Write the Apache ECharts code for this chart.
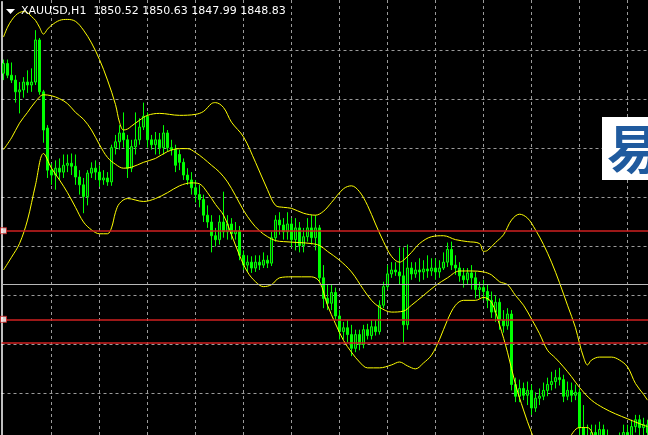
<!DOCTYPE html>
<html><head><meta charset="utf-8">
<script src="https://cdn.jsdelivr.net/npm/echarts/dist/echarts.min.js"></script>
<style>html,body{margin:0;padding:0;background:#000;}#c{width:648px;height:435px;}</style>
</head><body><div id="c"></div>
<script>
const symbolName = 'XAUUSD,H1';
const quote = ['1850.52', '1850.63', '1847.99', '1848.83'];

// [open, close, low, high]
const candles = [
[1882.7,1883.7,1882.0,1884.1],[1883.7,1882.5,1882.2,1884.1],[1882.5,1882.0,1881.7,1883.8],[1882.0,1880.8,1879.7,1882.5],
[1880.8,1881.0,1878.6,1881.8],[1881.0,1881.8,1880.2,1882.3],[1881.8,1881.5,1880.7,1883.0],[1881.5,1881.8,1880.8,1883.2],
[1881.8,1886.1,1881.5,1887.1],[1886.1,1880.8,1880.5,1886.3],[1880.8,1876.9,1875.6,1881.0],[1877.1,1872.8,1872.0,1877.4],
[1872.8,1872.3,1871.3,1873.5],[1872.3,1873.0,1870.8,1873.8],[1873.0,1872.6,1871.8,1874.0],[1872.6,1873.3,1872.0,1874.4],
[1873.3,1873.5,1872.6,1874.4],[1873.5,1873.2,1872.3,1874.5],[1873.2,1872.1,1871.3,1874.4],[1872.1,1871.3,1870.3,1872.8],
[1871.3,1870.1,1868.4,1872.0],[1870.1,1872.5,1869.2,1872.8],[1872.5,1873.0,1872.0,1873.6],[1873.0,1872.6,1871.8,1873.8],
[1872.6,1871.8,1871.1,1873.3],[1871.8,1872.0,1871.3,1872.8],[1872.0,1871.6,1871.2,1872.6],[1871.6,1875.1,1871.2,1875.4],
[1875.1,1875.7,1874.4,1876.4],[1875.7,1876.6,1874.9,1877.4],[1876.6,1875.9,1875.1,1878.7],[1875.9,1873.0,1872.0,1876.4],
[1873.0,1875.2,1872.6,1875.9],[1875.2,1875.9,1874.4,1878.7],[1875.9,1877.2,1875.4,1878.1],[1877.2,1878.3,1876.9,1879.7],
[1878.3,1875.9,1875.1,1878.7],[1875.9,1875.4,1874.9,1876.4],[1875.4,1875.9,1874.4,1876.7],[1875.9,1875.1,1874.4,1876.6],
[1875.1,1876.6,1874.4,1877.4],[1876.6,1875.1,1874.7,1876.9],[1875.1,1874.9,1874.3,1875.9],[1874.9,1873.3,1872.6,1875.4],
[1874.4,1873.6,1872.8,1874.9],[1873.6,1872.3,1871.8,1874.0],[1872.3,1871.8,1871.3,1873.0],[1871.8,1871.0,1870.3,1872.6],
[1871.0,1870.3,1869.5,1871.8],[1870.3,1869.8,1869.0,1871.3],[1869.8,1868.2,1867.5,1870.3],[1868.2,1867.5,1866.9,1869.2],
[1867.5,1866.1,1864.4,1868.2],[1866.1,1865.7,1865.0,1866.9],[1865.7,1867.5,1865.2,1868.2],[1867.5,1866.5,1865.9,1870.6],
[1866.5,1867.3,1865.7,1868.2],[1867.3,1866.3,1865.7,1867.9],[1866.3,1866.6,1865.7,1867.5],[1866.6,1864.1,1863.6,1867.1],
[1864.1,1863.1,1862.6,1864.6],[1863.1,1863.4,1862.4,1864.1],[1863.4,1862.8,1862.3,1864.0],[1862.8,1863.4,1862.4,1864.1],
[1863.4,1863.1,1862.6,1864.1],[1863.1,1863.6,1862.8,1864.4],[1863.6,1863.3,1862.8,1864.1],[1863.3,1865.9,1863.0,1866.5],
[1865.9,1867.7,1865.5,1868.2],[1867.7,1867.2,1866.2,1868.5],[1867.2,1866.5,1865.7,1867.9],[1866.5,1867.3,1865.7,1868.5],
[1867.3,1865.7,1864.9,1867.9],[1865.7,1866.9,1864.6,1867.9],[1866.9,1865.1,1864.4,1867.5],[1865.1,1866.0,1864.4,1866.9],
[1866.0,1866.9,1865.5,1867.9],[1866.9,1865.9,1865.2,1868.2],[1865.9,1866.9,1864.6,1868.2],[1866.9,1861.8,1861.4,1867.2],
[1861.8,1859.7,1858.7,1863.1],[1859.7,1859.2,1858.5,1861.1],[1859.2,1860.3,1858.5,1861.1],[1860.3,1857.9,1857.5,1860.8],
[1857.9,1856.3,1855.5,1858.5],[1856.3,1856.7,1855.5,1857.3],[1856.7,1856.0,1855.2,1857.5],[1856.0,1854.6,1853.8,1857.0],
[1854.6,1856.0,1854.2,1856.5],[1856.0,1855.0,1854.4,1856.5],[1855.0,1856.5,1854.6,1857.0],[1856.5,1855.9,1855.5,1857.1],
[1855.9,1856.8,1855.5,1857.5],[1856.8,1856.3,1855.9,1857.5],[1856.3,1859.0,1856.0,1859.5],[1859.0,1860.9,1858.7,1861.4],
[1860.9,1862.2,1860.6,1863.1],[1862.2,1862.6,1861.8,1863.4],[1862.6,1862.4,1862.0,1863.4],[1862.4,1862.0,1861.1,1864.9],
[1862.0,1857.0,1855.1,1864.9],[1857.0,1862.8,1856.5,1865.2],[1862.8,1862.2,1861.6,1863.4],[1862.2,1862.6,1861.8,1863.4],
[1862.6,1862.4,1861.4,1863.8],[1862.4,1862.7,1861.6,1863.6],[1862.7,1862.5,1861.8,1864.1],[1862.5,1862.8,1862.0,1863.8],
[1862.8,1862.4,1861.6,1863.8],[1862.4,1862.8,1861.8,1863.6],[1862.8,1863.4,1862.6,1864.4],[1863.4,1864.7,1862.9,1865.4],
[1864.7,1863.1,1862.6,1865.5],[1863.1,1862.8,1862.1,1864.1],[1862.8,1862.0,1861.4,1863.4],[1862.0,1861.6,1860.8,1862.8],
[1861.6,1862.3,1861.1,1862.8],[1862.3,1861.8,1860.6,1863.1],[1861.8,1860.6,1859.7,1862.4],[1860.6,1860.8,1859.7,1861.4],
[1860.8,1860.4,1859.5,1861.6],[1860.4,1859.5,1858.7,1861.1],[1859.5,1858.3,1857.7,1860.4],[1858.3,1859.3,1857.3,1860.0],
[1859.3,1857.5,1856.5,1859.7],[1857.5,1856.9,1856.2,1858.5],[1856.9,1858.1,1856.5,1858.7],[1858.1,1850.9,1850.3,1858.5],
[1850.9,1849.7,1849.1,1851.6],[1849.7,1850.5,1849.1,1851.4],[1850.5,1849.8,1849.3,1851.1],[1849.8,1850.3,1848.8,1851.2],
[1850.3,1848.5,1847.8,1850.9],[1848.5,1849.5,1848.1,1850.1],[1849.5,1849.7,1848.8,1850.5],[1849.7,1850.3,1849.3,1851.1],
[1850.3,1850.9,1849.7,1851.6],[1850.9,1851.2,1850.3,1852.2],[1851.2,1851.6,1850.5,1852.4],[1851.6,1851.4,1850.8,1852.6],
[1851.4,1849.7,1849.1,1851.9],[1849.7,1850.3,1849.3,1851.2],[1850.3,1849.8,1849.1,1851.1],[1849.8,1850.1,1849.3,1850.9],
[1850.1,1846.5,1845.7,1850.5],[1846.5,1845.2,1844.2,1848.8],[1845.2,1844.7,1843.7,1846.8],[1844.7,1846.0,1844.2,1846.8],
[1846.0,1845.4,1844.4,1846.8],[1845.4,1846.3,1844.7,1847.1],[1846.3,1845.2,1844.2,1846.8],[1845.2,1844.7,1843.7,1846.3],
[1844.7,1845.0,1844.0,1845.7],[1845.0,1844.4,1843.7,1845.6],[1844.4,1845.2,1844.0,1846.0],[1845.2,1846.0,1844.4,1846.8],
[1846.0,1845.6,1844.8,1846.8],[1845.6,1846.6,1845.2,1847.3],[1846.6,1847.3,1846.0,1847.8],[1847.3,1846.5,1845.7,1847.8],
[1846.5,1846.8,1845.6,1847.5],[1846.8,1846.0,1845.2,1847.3]
];

// Bollinger bands, [bar index, price]
const upperBand = [
[0,1886.4],[1,1887.4],[2,1888.1],[3,1888.6],[4,1888.9],[5,1889.0],[6,1888.9],[7,1888.5],[8,1888.1],[9,1887.4],[10,1886.7],
[11,1887.2],[12,1887.6],[14,1888.1],[16,1888.2],[18,1888.0],[20,1887.1],[22,1885.8],[24,1884.1],[26,1882.0],[28,1879.5],
[29,1877.7],[30,1876.9],[31,1877.0],[32,1877.3],[34,1877.9],[36,1878.4],[39,1878.6],[44,1878.4],[48,1878.5],[50,1878.8],
[52,1879.6],[53,1879.7],[55,1879.2],[57,1877.7],[60,1876.2],[63,1873.6],[66,1870.8],[68,1869.2],[70,1869.0],[72,1868.9],
[75,1868.4],[78,1868.2],[80,1868.6],[82,1869.5],[85,1870.9],[87,1871.2],[89,1870.6],[91,1869.2],[93,1867.3],[95,1865.5],
[97,1864.0],[99,1863.4],[100,1863.6],[102,1864.4],[104,1865.3],[107,1866.0],[110,1866.1],[113,1865.7],[116,1865.5],
[119,1865.3],[120,1864.5],[121,1864.6],[123,1865.4],[125,1866.2],[127,1867.7],[129,1868.3],[131,1867.9],[133,1866.7],
[135,1865.2],[137,1863.4],[139,1861.3],[141,1859.0],[143,1856.7],[144,1855.1],[145,1853.7],[146,1852.9],[147,1853.4],
[149,1853.7],[152,1853.7],[154,1853.4],[156,1852.7],[158,1851.0],[160,1849.9],[161,1849.3]
];
const middleBand = [
[0,1874.9],[2,1876.1],[4,1877.6],[6,1878.7],[8,1879.8],[10,1880.5],[12,1880.4],[14,1880.1],[16,1879.6],[18,1878.7],
[20,1878.0],[22,1876.9],[24,1875.4],[26,1874.1],[28,1873.4],[30,1873.0],[32,1873.1],[35,1873.6],[38,1874.0],[41,1874.7],
[44,1875.0],[46,1875.0],[48,1874.6],[50,1874.0],[52,1873.3],[54,1872.6],[56,1871.6],[58,1870.2],[60,1868.7],[62,1867.5],
[64,1866.6],[66,1866.0],[68,1865.6],[70,1865.5],[74,1865.4],[77,1865.3],[79,1865.1],[81,1864.5],[84,1863.6],[87,1862.4],
[90,1860.6],[92,1859.5],[94,1858.8],[97,1858.3],[100,1858.4],[102,1859.0],[105,1860.0],[108,1861.0],[111,1861.8],
[114,1862.5],[117,1862.5],[120,1862.4],[122,1862.1],[124,1861.4],[126,1861.1],[128,1860.0],[130,1859.0],[132,1857.6],
[134,1856.1],[136,1854.4],[138,1853.6],[140,1852.7],[142,1851.7],[144,1850.6],[147,1849.3],[150,1848.5],[153,1847.9],
[156,1847.4],[159,1846.9],[161,1846.6]
];
const lowerBand = [
[0,1862.6],[2,1863.9],[4,1865.3],[6,1867.7],[8,1871.3],[10,1874.5],[12,1873.0],[14,1871.8],[16,1870.5],[18,1869.0],
[20,1867.5],[22,1866.7],[24,1866.3],[26,1866.3],[27,1866.9],[28,1868.5],[29,1869.4],[31,1869.9],[35,1869.6],[38,1869.9],
[41,1870.5],[44,1871.2],[47,1871.5],[49,1871.4],[51,1870.5],[53,1869.3],[55,1868.2],[57,1866.2],[59,1864.1],[61,1862.4],
[63,1861.4],[65,1860.9],[67,1861.1],[69,1861.8],[72,1861.9],[77,1861.9],[79,1861.4],[81,1859.0],[83,1857.1],[85,1855.4],
[87,1854.2],[89,1853.2],[91,1852.6],[94,1852.6],[97,1852.9],[99,1853.2],[101,1852.8],[103,1852.5],[105,1853.1],
[107,1853.9],[109,1855.5],[111,1857.5],[113,1859.0],[115,1859.5],[118,1859.5],[120,1859.8],[122,1859.3],[124,1857.0],
[126,1854.2],[128,1850.9],[130,1848.3],[132,1846.0],[134,1844.2],[137,1843.2],[141,1845.2],[144,1846.5],[146,1846.5],
[148,1845.2],[151,1843.2]
];

const redLevels = [1866.61, 1857.56, 1855.14];
const grayLevels = [1861.14];
const handleLevels = [1866.61, 1857.56];
const categories = candles.map((_, i) => String(i));

const chart = echarts.init(document.getElementById('c'), null, {renderer: 'canvas'});
const bandStyle = {color: '#ffff00', width: 1};
const lineSeries = (name, data) => ({
  name, type: 'line', data, smooth: 0.35, symbol: 'none', xAxisIndex: 0, yAxisIndex: 0,
  lineStyle: bandStyle, silent: true, z: 3
});
const gridGray = '#9a9a9a';

chart.setOption({
  backgroundColor: '#000',
  animation: false,
  grid: [
    {left: 1.5, top: 1.8, width: 648, height: 489.4, outerBoundsMode: 'none', containLabel: false},
    {left: 51.7, top: 0, right: 0, bottom: 0, outerBoundsMode: 'none', containLabel: false}
  ],
  xAxis: [
    {type: 'category', gridIndex: 0, data: categories, boundaryGap: true,
     axisLine: {show: false}, axisTick: {show: false}, axisLabel: {show: false}, splitLine: {show: false}},
    {type: 'value', gridIndex: 1, min: 0, max: 596.3, interval: 48,
     axisLine: {show: false}, axisTick: {show: false}, axisLabel: {show: false},
     splitLine: {show: true, lineStyle: {color: gridGray, type: [3, 3], width: 1}}}
  ],
  yAxis: [
    {type: 'value', gridIndex: 0, min: 1840, max: 1890, interval: 5, position: 'left',
     axisLine: {show: true, lineStyle: {color: '#ffffff', width: 1.5}},
     axisTick: {show: false}, axisLabel: {show: false},
     splitLine: {show: true, lineStyle: {
       color: [gridGray, gridGray, gridGray, gridGray, gridGray, gridGray, gridGray, gridGray, gridGray, gridGray, 'rgba(0,0,0,0)'],
       type: [3, 3], width: 1}}},
    {type: 'value', gridIndex: 1, min: 0, max: 1, show: false, splitLine: {show: false}}
  ],
  series: [
    {
      type: 'candlestick', name: symbolName, data: candles, xAxisIndex: 0, yAxisIndex: 0,
      barWidth: 3,
      itemStyle: {color: '#0d400d', color0: '#00ff00', borderColor: '#00ff00', borderColor0: '#00ff00', borderWidth: 1},
      markLine: {
        silent: true, symbol: ['none', 'none'], label: {show: false}, animation: false,
        data: redLevels.map(v => ({yAxis: v, lineStyle: {color: '#d02020', width: 1.5, type: 'solid'}}))
          .concat(grayLevels.map(v => ({yAxis: v, lineStyle: {color: '#b8b8b8', width: 1, type: 'solid'}})))
      },
      z: 2
    },
    lineSeries('Upper', upperBand),
    lineSeries('Middle', middleBand),
    lineSeries('Lower', lowerBand),
    {
      type: 'scatter', xAxisIndex: 0, yAxisIndex: 0, silent: true,
      data: handleLevels.map(v => [0, v]), symbol: 'rect', symbolSize: 6,
      itemStyle: {color: '#ffffff', borderColor: '#d02020', borderWidth: 1}, z: 10
    }
  ],
  graphic: [
    {type: 'polygon', shape: {points: [[6, 9], [15, 9], [10.5, 14]]}, style: {fill: '#ffffff'}, z: 20},
    {type: 'text', x: 21, y: 6, z: 20,
     style: {text: symbolName + '  ' + quote.join(' '), fill: '#ffffff', font: '11px "DejaVu Sans"', textVerticalAlign: 'top'}},
    {type: 'rect', shape: {x: 602, y: 117, width: 50, height: 63}, style: {fill: '#ffffff'}, z: 20},
    {type: 'text', x: 607, y: 123, z: 21,
     style: {text: '易', fill: '#1f5a9e', font: 'bold 52px "Noto Sans CJK SC"', textVerticalAlign: 'top'}}
  ]
});
</script>
</body></html>
